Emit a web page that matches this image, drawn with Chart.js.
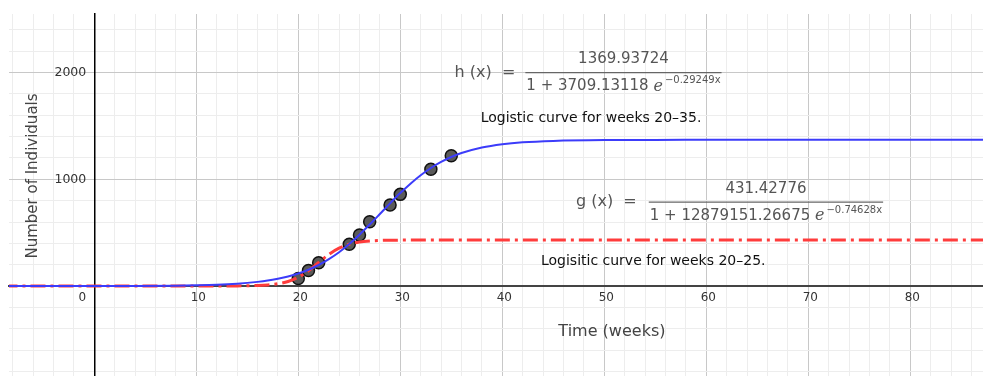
<!DOCTYPE html>
<html>
<head>
<meta charset="utf-8">
<script src="https://cdn.jsdelivr.net/npm/chart.js@4.4.1/dist/chart.umd.min.js"></script>
<style>
  html, body { margin: 0; padding: 0; background: #fff; }
  #wrap { width: 983px; height: 376px; }
</style>
</head>
<body>
<div id="wrap"><canvas id="chartCanvas"></canvas></div>
<script>
// observed counts
const weeksObserved = [20, 21, 22, 25, 26, 27, 29, 30, 33, 35];
const individuals = [70, 145, 218, 391, 478, 603, 759, 859, 1094, 1221];

// h(x), logistic fit for weeks 20-35
const hWeeks = [-9, 0, 4, 8, 10, 12, 14, 16, 17, 18, 19, 20, 21, 22, 23, 24, 25, 26, 27, 28, 29, 30, 31, 32, 33, 34, 35, 36, 38, 40, 42, 45, 50, 55, 60, 70, 88];
const hValues = [0, 0.4, 1.2, 3.8, 6.9, 12, 22, 39, 51, 68, 89, 117, 153, 197, 252, 317, 394, 481, 576, 675, 775, 871, 959, 1038, 1106, 1163, 1209, 1246, 1298, 1329, 1347, 1360, 1368, 1369.4, 1369.8, 1369.9, 1369.9];

// g(x), logistic fit for weeks 20-25
const gWeeks = [-9, 10, 14, 16, 17, 18, 19, 20, 21, 22, 23, 24, 25, 26, 27, 28, 30, 32, 35, 50, 88];
const gValues = [0, 0.1, 1.2, 5, 10.6, 21.7, 43, 82, 143, 221, 297, 355, 392, 412, 422, 427, 430.4, 431.2, 431.4, 431.4, 431.4];

const xTickLabels = [0, 10, 20, 30, 40, 50, 60, 70, 80];
const yTickLabels = [1000, 2000];

const xTitle = "Time (weeks)";
const yTitle = "Number of Individuals";
const hFormula = { lhs: "h (x)  =", num: "1369.93724", den: "1 + 3709.13118 ", exp: "\u22120.29249x" };
const gFormula = { lhs: "g (x)  =", num: "431.42776", den: "1 + 12879151.26675 ", exp: "\u22120.74628x" };
const hNote = "Logistic curve for weeks 20\u201335.";
const gNote = "Logisitic curve for weeks 20\u201325.";

const toXY = (xs, ys) => xs.map((v, i) => ({ x: v, y: ys[i] }));

// grid every `step`, aligned on multiples of step (Chart.js would otherwise stretch the step)
const alignTicks = step => scale => {
    const ticks = [];
    for (let v = Math.ceil(scale.min / step) * step; v <= scale.max; v += step) {
        ticks.push({ value: Math.round(v * 1000) / 1000 });
    }
    scale.ticks = ticks;
};

function drawFraction(ctx, f, cx, cy, lhsGap) {
    const mainFont = '15px "DejaVu Sans"';
    ctx.font = mainFont;
    const wDen = ctx.measureText(f.den).width;
    const wNum = ctx.measureText(f.num).width;
    ctx.font = 'italic 16px "DejaVu Serif"';
    const wE = ctx.measureText("e").width;
    ctx.font = '10px "DejaVu Sans"';
    const wExp = ctx.measureText(f.exp).width;
    const total = wDen + wE + 2 + wExp;
    const L = Math.max(total, wNum) + 2;

    ctx.strokeStyle = "#666";
    ctx.lineWidth = 1.3;
    ctx.beginPath();
    ctx.moveTo(cx - L / 2, cy);
    ctx.lineTo(cx + L / 2, cy);
    ctx.stroke();

    ctx.fillStyle = "#555";
    ctx.textBaseline = "middle";
    ctx.font = mainFont;
    ctx.textAlign = "center";
    ctx.fillText(f.num, cx, cy - 13);
    ctx.font = '16px "DejaVu Sans"';
    ctx.textAlign = "right";
    ctx.fillText(f.lhs, cx - L / 2 - lhsGap, cy);

    let x0 = cx - total / 2;
    ctx.font = mainFont;
    ctx.textAlign = "left";
    ctx.fillText(f.den, x0, cy + 14);
    x0 += wDen;
    ctx.font = 'italic 16px "DejaVu Serif"';
    ctx.fillText("e", x0, cy + 14);
    x0 += wE + 2;
    ctx.font = '10px "DejaVu Sans"';
    ctx.fillText(f.exp, x0, cy + 8);
}

const textLayer = {
    id: "textLayer",
    afterDatasetsDraw(chart) {
        const ctx = chart.ctx;
        const xs = chart.scales.x, ys = chart.scales.y;
        const px = v => xs.getPixelForValue(v);
        const py = v => ys.getPixelForValue(v);
        ctx.save();

        // tick labels, placed GeoGebra-style next to the axes
        ctx.font = '12px "DejaVu Sans"';
        ctx.fillStyle = "#333";
        ctx.textAlign = "center";
        ctx.textBaseline = "top";
        xs.ticks.forEach(t => {
            if (!xTickLabels.includes(t.value)) return;
            const off = t.value === 0 ? -12 : 2;
            ctx.fillText(String(t.value), px(t.value) + off, py(0) + 6);
        });
        ctx.font = '12.5px "DejaVu Sans"';
        ctx.textAlign = "right";
        ctx.textBaseline = "middle";
        ys.ticks.forEach(t => {
            if (!yTickLabels.includes(t.value)) return;
            ctx.fillText(String(t.value), px(0) - 8, py(t.value));
        });

        // axis titles
        ctx.fillStyle = "#444";
        ctx.font = '16px "DejaVu Sans"';
        ctx.textAlign = "center";
        ctx.textBaseline = "middle";
        ctx.fillText(xTitle, px(50.75), py(-431));
        ctx.save();
        ctx.translate(px(-6.0), py(1031));
        ctx.rotate(-Math.PI / 2);
        ctx.font = '15px "DejaVu Sans"';
        ctx.fillText(yTitle, 0, 0);
        ctx.restore();

        // formulas
        drawFraction(ctx, hFormula, px(51.88), py(2000), 10);
        drawFraction(ctx, gFormula, px(65.85), py(787), 12);

        ctx.fillStyle = "#111";
        ctx.font = '14px "DejaVu Sans"';
        ctx.textAlign = "center";
        ctx.fillText(hNote, px(48.7), py(1574));
        ctx.fillText(gNote, px(54.8), py(234));
        ctx.restore();
    }
};

new Chart(document.getElementById("chartCanvas"), {
    type: "scatter",
    data: {
        datasets: [
            {
                label: "h(x)",
                data: toXY(hWeeks, hValues),
                showLine: true,
                borderColor: "rgb(60,60,250)",
                borderWidth: 2,
                cubicInterpolationMode: "monotone",
                pointRadius: 0,
                pointHoverRadius: 0
            },
            {
                label: "g(x)",
                data: toXY(gWeeks, gValues),
                showLine: true,
                borderColor: "rgb(255,60,60)",
                borderWidth: 3,
                borderDash: [15, 5, 3, 5],
                cubicInterpolationMode: "monotone",
                pointRadius: 0,
                pointHoverRadius: 0
            },
            {
                label: "Observed",
                data: toXY(weeksObserved, individuals),
                showLine: false,
                pointRadius: 6,
                pointBackgroundColor: "#5a5a5a",
                pointBorderColor: "#111",
                pointBorderWidth: 1.5
            }
        ]
    },
    options: {
        responsive: true,
        maintainAspectRatio: false,
        animation: false,
        devicePixelRatio: 1,
        layout: { autoPadding: false, padding: { left: 9, top: 14, right: 0, bottom: 0 } },
        plugins: {
            legend: { display: false },
            tooltip: { enabled: false }
        },
        scales: {
            x: {
                type: "linear",
                position: { y: 0 },
                min: -8.36,
                max: 87.13,
                afterFit: s => { s.height = 0; s.paddingLeft = 0; s.paddingRight = 0; },
                afterBuildTicks: alignTicks(2),
                ticks: { display: false },
                grid: {
                    drawTicks: false,
                    lineWidth: 1,
                    color: c => (c.tick && c.tick.value % 10 === 0 ? "#c8c8c8" : "#ededed")
                },
                border: { display: true, color: "#444", width: 2 }
            },
            y: {
                type: "linear",
                position: { x: 0 },
                min: -843,
                max: 2549,
                afterFit: s => { s.width = 0; s.paddingTop = 0; s.paddingBottom = 0; },
                afterBuildTicks: alignTicks(200),
                ticks: { display: false },
                grid: {
                    drawTicks: false,
                    lineWidth: 1,
                    color: c => (c.tick && c.tick.value % 1000 === 0 ? "#c8c8c8" : "#ededed")
                },
                border: { display: true, color: "#000", width: 1.5 }
            }
        }
    },
    plugins: [textLayer]
});
</script>
</body>
</html>
